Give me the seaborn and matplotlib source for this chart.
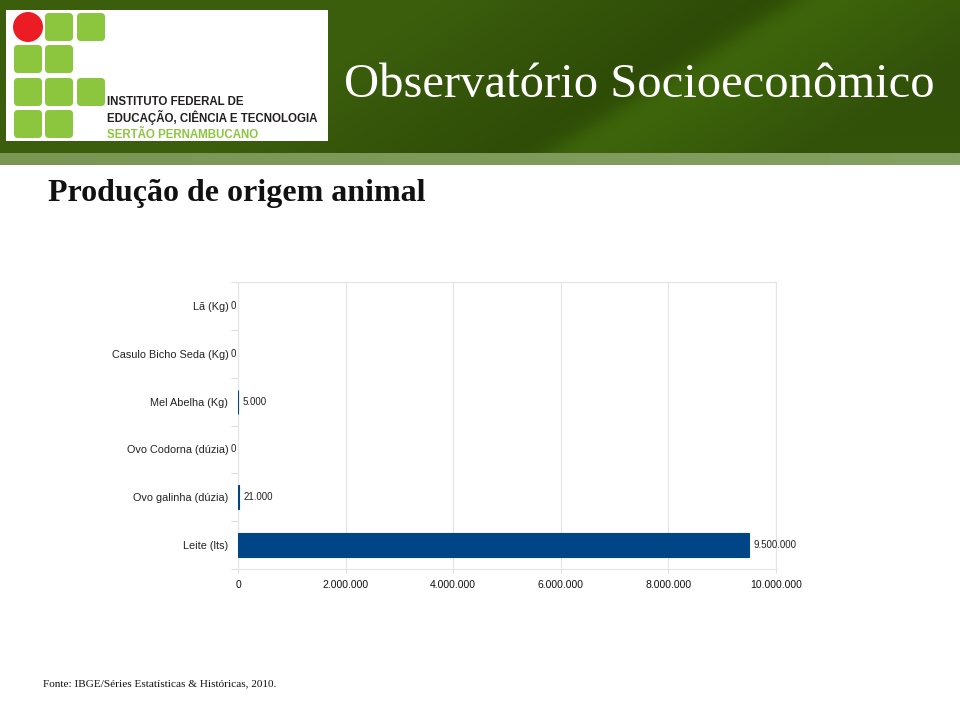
import numpy as np
import pandas as pd
import matplotlib
matplotlib.use("Agg")
import matplotlib.pyplot as plt
from matplotlib.patches import Rectangle, FancyBboxPatch, Circle
from matplotlib.ticker import FuncFormatter, FixedLocator
import seaborn as sns

# ---- data ----
categories = ["Lã (Kg)", "Casulo Bicho Seda (Kg)", "Mel Abelha (Kg)",
              "Ovo Codorna (dúzia)", "Ovo galinha (dúzia)", "Leite (lts)"]
values = [0, 0, 5000, 0, 21000, 9500000]
x_ticks = [0, 2000000, 4000000, 6000000, 8000000, 10000000]

title_header = "Observatório Socioeconômico"
title_slide = "Produção de origem animal"
source_text = "Fonte: IBGE/Séries Estatísticas & Históricas, 2010."

def fmt(v):
    return f"{int(v):,}".replace(",", ".")

sns.set_theme(style="white")
plt.rcParams['font.family'] = ['Liberation Sans', 'DejaVu Sans']

W, H = 960, 714
fig = plt.figure(figsize=(W / 100, H / 100), dpi=100)
fig.patch.set_facecolor("white")

# ---- background / header (pixel coordinates) ----
bg = fig.add_axes([0, 0, 1, 1])
bg.axis("off")

def hexrgb(h):
    h = h.lstrip("#")
    return np.array([int(h[i:i + 2], 16) / 255 for i in (0, 2, 4)])

px = np.arange(0, W, 2.0)
py = np.arange(0, 153, 2.0)
X, Y = np.meshgrid(px, py)
d = X - (793 - 1.6 * Y)
c_far_left = hexrgb("#3b5e0d")
c_dark = hexrgb("#2c4806")
c_light = hexrgb("#406a0b")
c_far_right = hexrgb("#31500a")
tl = np.clip(-d / 350, 0, 1)[..., None]
tr = np.clip(d / 260, 0, 1)[..., None]
left_col = c_dark * (1 - tl) + c_far_left * tl
right_col = c_light * (1 - tr) + c_far_right * tr
s = (1 / (1 + np.exp(-d / 12)))[..., None]
img = left_col * (1 - s) + right_col * s
img = img * (1 - 0.08 * (Y / 153)[..., None]) + 0.08 * (Y / 153)[..., None] * hexrgb("#3f6209")
bg.imshow(img, extent=(0, W, 153, 0), aspect="auto", zorder=0, interpolation="bilinear")

bx = np.linspace(0, 1, 200)
band = hexrgb("#7a9653")[None, None, :] * (1 - bx[None, :, None]) + \
       hexrgb("#84a062")[None, None, :] * bx[None, :, None]
bg.imshow(band, extent=(0, W, 165, 153), aspect="auto", zorder=0)
bg.set_xlim(0, W)
bg.set_ylim(H, 0)

# logo box
bg.add_patch(Rectangle((6, 10), 322, 131, facecolor="white", edgecolor="none", zorder=1))
green = "#8cc63f"
cols = [14, 45, 77]
rows = [13, 45, 78, 110]
layout = {0: [1, 2], 1: [0, 1], 2: [0, 1, 2], 3: [0, 1]}
for r, cs in layout.items():
    for c in cs:
        bg.add_patch(FancyBboxPatch((cols[c] + 2, rows[r] + 2), 24, 24,
                                    boxstyle="round,pad=2,rounding_size=4",
                                    facecolor=green, edgecolor="none", zorder=2))
bg.add_patch(Circle((28, 27), 15, facecolor="#ec1c24", edgecolor="none", zorder=2))
bg.text(107, 105, "INSTITUTO FEDERAL DE", fontsize=8.3, fontweight="bold",
        color="#231f20", va="baseline", ha="left", zorder=3)
bg.text(107, 122, "EDUCAÇÃO, CIÊNCIA E TECNOLOGIA", fontsize=8.3, fontweight="bold",
        color="#231f20", va="baseline", ha="left", zorder=3)
bg.text(107, 138, "SERTÃO PERNAMBUCANO", fontsize=8.3, fontweight="bold",
        color="#8cc63f", va="baseline", ha="left", zorder=3)

bg.text(344, 97, title_header, fontsize=35, color="white",
        family=["Liberation Serif", "DejaVu Serif"], ha="left", va="baseline", zorder=3)

bg.text(48, 201, title_slide, fontsize=23, fontweight="bold", color="#111111",
        family=["Liberation Serif", "DejaVu Serif"], ha="left", va="baseline", zorder=3)

bg.text(43, 686, source_text, fontsize=8.1, color="#111111",
        family=["Liberation Serif", "DejaVu Serif"], ha="left", va="baseline", zorder=3)

# ---- chart ----
left, right, top, bottom = 238, 776, 282, 569
ax = fig.add_axes([left / W, 1 - bottom / H, (right - left) / W, (bottom - top) / H])
df = pd.DataFrame({"cat": categories, "val": values})
sns.barplot(data=df, x="val", y="cat", orient="h", color="#004586", width=0.5,
            saturation=1, ax=ax, zorder=3, linewidth=0)
for p, v in zip(ax.patches, values):
    if v > 0:
        p.set_edgecolor("#004586")
        p.set_linewidth(0.8)
    else:
        p.set_visible(False)
ax.set_xlim(0, 10000000)
ax.set_ylim(len(categories) - 0.5, -0.5)
ax.set_xlabel("")
ax.set_ylabel("")
ax.xaxis.set_major_locator(FixedLocator(x_ticks))
ax.xaxis.set_major_formatter(FuncFormatter(lambda v, p: fmt(v)))
ax.grid(axis="x", color="#e4e4e4", linewidth=0.8, zorder=0)
ax.grid(axis="y", visible=False)
for sp in ax.spines.values():
    sp.set_color("#e4e4e4")
    sp.set_linewidth(0.8)
ax.tick_params(axis="x", labelsize=7.5, colors="#e0e0e0", labelcolor="#111111",
               length=3, width=0.8, pad=5, bottom=True)
ax.tick_params(axis="y", which="major", labelsize=7.8, labelcolor="#222222",
               length=0, pad=7)
ax.yaxis.set_minor_locator(FixedLocator(np.arange(-0.5, len(categories), 1.0)))
ax.tick_params(axis="y", which="minor", length=5, width=0.8, color="#e0e0e0", left=True)

for i, v in enumerate(values):
    if v == 0:
        ax.annotate(fmt(v), xy=(0, i), xytext=(-1.5, 0), textcoords="offset points",
                    ha="right", va="center", fontsize=7, color="#222222",
                    annotation_clip=False)
    else:
        ax.annotate(fmt(v), xy=(v, i), xytext=(3, 0), textcoords="offset points",
                    ha="left", va="center", fontsize=7, color="#222222",
                    annotation_clip=False)

fig.savefig("out.png", dpi=100)
